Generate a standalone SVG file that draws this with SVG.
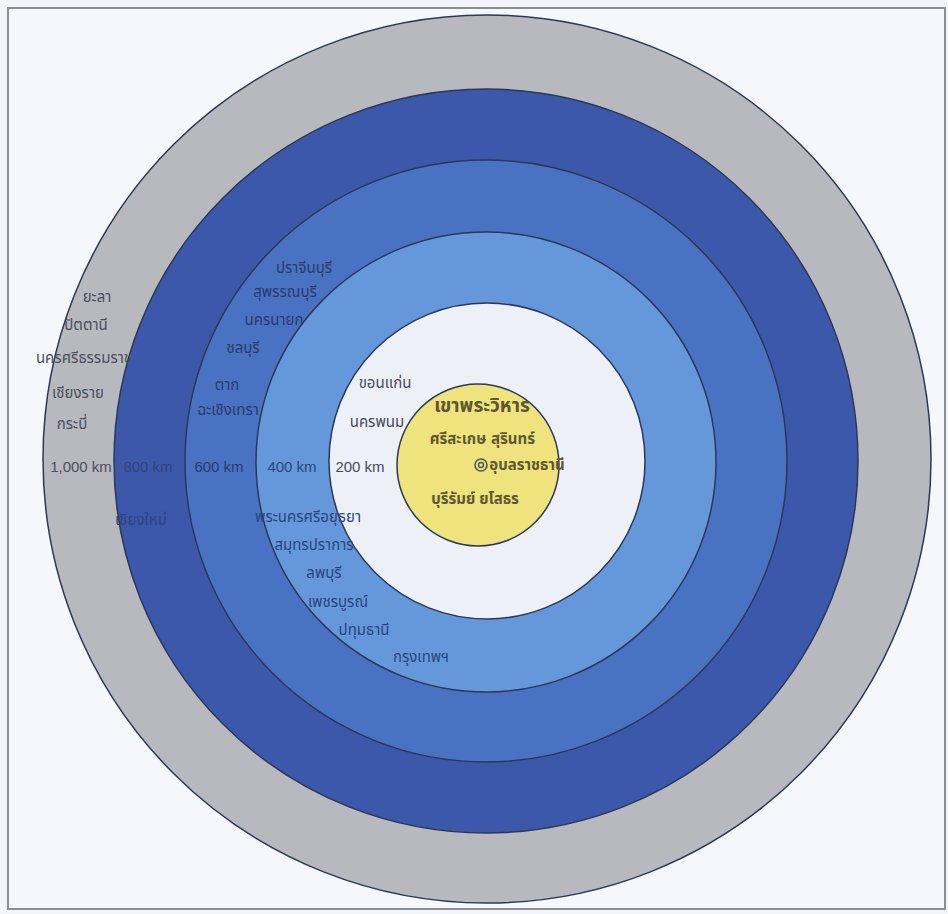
<svg xmlns="http://www.w3.org/2000/svg" width="948" height="914" viewBox="0 0 948 914">
<style>
.ring{stroke:#2b3858;stroke-width:1.5}
.th{font-family:"Noto Sans Thai","Noto Serif Thai","Noto Sans",sans-serif;font-size:15px;text-anchor:middle}
.km{font-family:"Liberation Sans",Arial,sans-serif;font-size:15px;text-anchor:middle}
.g{fill:#4b4e5c}
.d{fill:#30437c}
.m{fill:#2a3a6c}
.l{fill:#2a4580}
.w{fill:#464a58}
.y{fill:#5f5632;font-size:15px;font-weight:bold}
</style>
<rect x="0" y="0" width="948" height="914" fill="#f3f5fa"/>
<rect x="8" y="8" width="937" height="901" fill="#f5f7fc" stroke="#8c8e96" stroke-width="2"/>
<g id="ring-1000">
<circle cx="487" cy="459" r="444" fill="#b8b9be" class="ring"/>
</g>
<g id="ring-800">
<circle cx="486" cy="461" r="372" fill="#3b58ab" class="ring"/>
</g>
<g id="ring-600">
<circle cx="486" cy="461" r="301" fill="#4a72c3" class="ring"/>
</g>
<g id="ring-400">
<circle cx="486" cy="462" r="230" fill="#6598db" class="ring"/>
</g>
<g id="ring-200">
<circle cx="487" cy="461" r="158" fill="#eef0f8" class="ring"/>
</g>
<g id="center">
<circle cx="478" cy="465" r="81" fill="#eee37c" class="ring"/>
</g>
<g id="labels-1000">
<text class="th g" x="97" y="302">ยะลา</text>
<text class="th g" x="86" y="330">ปัตตานี</text>
<text class="th g" x="84" y="363">นครศรีธรรมราช</text>
<text class="th g" x="78" y="398">เชียงราย</text>
<text class="th g" x="72" y="429">กระบี่</text>
<text class="km g" x="81" y="472">1,000 km</text>
</g>
<g id="labels-800">
<text class="km d" x="148" y="472">800 km</text>
<text class="th d" x="141" y="525">เชียงใหม่</text>
</g>
<g id="labels-600">
<text class="th m" x="304" y="273">ปราจีนบุรี</text>
<text class="th m" x="285" y="297">สุพรรณบุรี</text>
<text class="th m" x="274" y="325">นครนายก</text>
<text class="th m" x="243" y="353">ชลบุรี</text>
<text class="th m" x="227" y="390">ตาก</text>
<text class="th m" x="228" y="415">ฉะเชิงเทรา</text>
<text class="km m" x="219" y="472">600 km</text>
</g>
<g id="labels-400">
<text class="km l" x="292" y="472">400 km</text>
<text class="th l" x="308" y="522">พระนครศรีอยุธยา</text>
<text class="th l" x="314" y="550">สมุทรปราการ</text>
<text class="th l" x="324" y="578">ลพบุรี</text>
<text class="th l" x="338" y="607">เพชรบูรณ์</text>
<text class="th l" x="364" y="635">ปทุมธานี</text>
<text class="th l" x="421" y="662">กรุงเทพฯ</text>
</g>
<g id="labels-200">
<text class="th w" x="385" y="388">ขอนแก่น</text>
<text class="th w" x="377" y="427">นครพนม</text>
<text class="km w" x="360" y="472">200 km</text>
</g>
<g id="labels-center">
<text class="th y" x="482" y="412" style="font-size:19px">เขาพระวิหาร</text>
<text class="th y" x="458" y="444">ศรีสะเกษ</text>
<text class="th y" x="513" y="444">สุรินทร์</text>
<circle cx="481" cy="465" r="6" fill="none" stroke="#555" stroke-width="1.6"/>
<circle cx="481" cy="465" r="2.5" fill="none" stroke="#555" stroke-width="1.4"/>
<text class="th y" x="527" y="470">อุบลราชธานี</text>
<text class="th y" x="475" y="504">บุรีรัมย์ ยโสธร</text>
</g>
</svg>
